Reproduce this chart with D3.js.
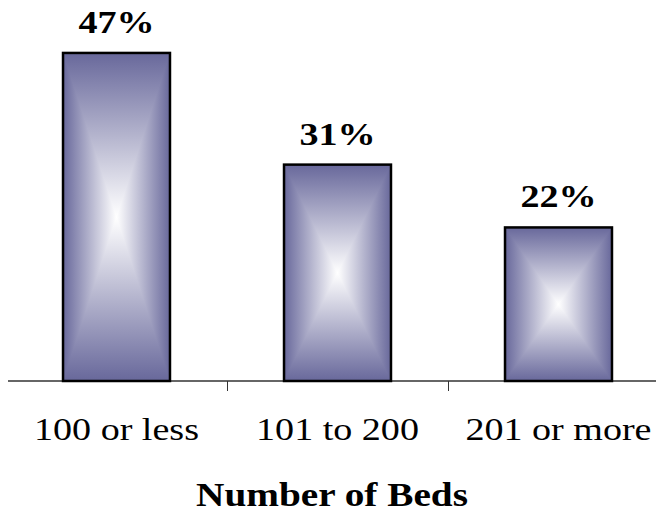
<!DOCTYPE html>
<html><head><meta charset="utf-8">
<script src="https://cdn.jsdelivr.net/npm/d3@7"></script>
<style>body{margin:0;background:#fff}svg{display:block}</style>
</head><body>
<script>
const categories = ["100 or less", "101 to 200", "201 or more"];
const values = [47, 31, 22];
const valueLabels = ["47%", "31%", "22%"];
const axisTitle = "Number of Beds";

const W = 656, H = 512;
const baseY = 381;
const FONT = "'Liberation Serif','Times New Roman',serif";
const STRETCH = 1.19;
const svg = d3.select("body").append("svg").attr("width", W).attr("height", H);
const defs = svg.append("defs");

const x = d3.scaleBand().domain(categories).range([6, 669]).padding(0);
const y = d3.scaleLinear().domain([0, 50]).range([baseY, baseY - 349]);
const barW = x.bandwidth() * 0.484;
const edge = "#68689b";

// vertical: edge -> white (middle) -> edge
const gv = defs.append("linearGradient").attr("id", "gV")
  .attr("x1", 0).attr("y1", 0).attr("x2", 0).attr("y2", 1);
gv.append("stop").attr("offset", 0).attr("stop-color", edge);
gv.append("stop").attr("offset", 0.5).attr("stop-color", "#ffffff");
gv.append("stop").attr("offset", 1).attr("stop-color", edge);
function grad(id, x1, x2) {
  const g = defs.append("linearGradient").attr("id", id)
    .attr("x1", x1).attr("y1", 0).attr("x2", x2).attr("y2", 0);
  g.append("stop").attr("offset", 0).attr("stop-color", edge);
  g.append("stop").attr("offset", 1).attr("stop-color", "#ffffff");
}
grad("gL", 0, 1);
grad("gR", 1, 0);

// axis line
svg.append("line").attr("x1", 8).attr("x2", W).attr("y1", baseY).attr("y2", baseY)
  .attr("stroke", "#333").attr("stroke-width", 1.3);
// inner ticks at band boundaries
categories.slice(1).forEach(c => {
  const tx = Math.round(x(c)) + 0.5;
  svg.append("line").attr("x1", tx).attr("x2", tx).attr("y1", baseY).attr("y2", baseY + 10)
    .attr("stroke", "#333").attr("stroke-width", 1);
});

function stretchedText(px, py, str, size, bold) {
  return svg.append("text")
    .attr("transform", `translate(${px},${py}) scale(${STRETCH},1)`)
    .attr("text-anchor", "middle")
    .attr("font-family", FONT)
    .attr("font-weight", bold ? "bold" : "normal")
    .attr("font-size", size).attr("fill", "#000").text(str);
}

categories.forEach((c, i) => {
  const cx = x(c) + x.bandwidth() / 2;
  const x0 = cx - barW / 2, x1 = cx + barW / 2;
  const y0 = y(values[i]), y1 = y(0);
  const my = (y0 + y1) / 2;
  const g = svg.append("g");
  g.append("rect").attr("x", x0).attr("y", y0).attr("width", barW).attr("height", y1 - y0)
    .attr("fill", "url(#gV)");
  g.append("polygon").attr("points", `${x0},${y0} ${x0},${y1} ${cx},${my}`).attr("fill", "url(#gL)");
  g.append("polygon").attr("points", `${x1},${y0} ${x1},${y1} ${cx},${my}`).attr("fill", "url(#gR)");
  g.append("rect").attr("x", x0).attr("y", y0).attr("width", barW).attr("height", y1 - y0)
    .attr("fill", "none").attr("stroke", "#000").attr("stroke-width", 2.5);

  stretchedText(cx, y0 - 20, valueLabels[i], 32, true);
  stretchedText(cx, 440, c, 32, false);
});

stretchedText(332, 506, axisTitle, 33, true);
</script>
</body></html>
